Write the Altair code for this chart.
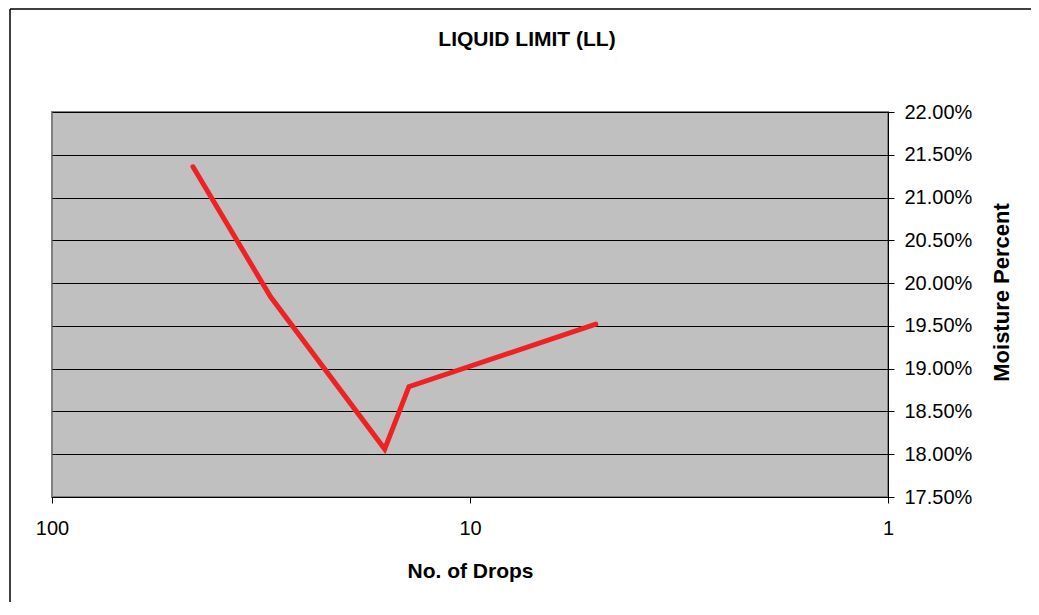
import altair as alt
import pandas as pd

drops = [46, 30, 16, 14, 5]
moisture = [0.2136, 0.1984, 0.1806, 0.1879, 0.1952]
x_ticks = [1, 10, 100]
y_ticks = [0.175, 0.18, 0.185, 0.19, 0.195, 0.20, 0.205, 0.21, 0.215, 0.22]
chart_title = "LIQUID LIMIT (LL)"

df = pd.DataFrame({"drops": drops, "moisture": moisture})

W, H = 836, 385
PL, PT, PR, PB = 44, 104, 143, 105
FONT = "Liberation Sans"

line = alt.Chart(df).mark_line(color="#EE2224", strokeWidth=5, strokeCap="round", strokeJoin="miter").encode(
    x=alt.X("drops:Q",
            scale=alt.Scale(type="log", domain=[1, 100], reverse=True, nice=False),
            axis=alt.Axis(values=x_ticks, format="d", title="No. of Drops", grid=False,
                          domainColor="#000000", tickColor="#000000", tickSize=6,
                          labelFont=FONT, labelFontSize=20, labelColor="#000000", labelPadding=15,
                          labelFlush=False,
                          titleFont=FONT, titleFontSize=21, titleFontWeight="bold", titleColor="#000000",
                          titleX=W / 2, titleY=74, titleBaseline="middle", titleAlign="center")),
    y=alt.Y("moisture:Q",
            scale=alt.Scale(domain=[0.175, 0.22], nice=False, zero=False),
            axis=alt.Axis(orient="right", values=y_ticks, format=".2%", title="Moisture Percent",
                          grid=True, gridColor="#000000", gridWidth=1, gridOpacity=1,
                          domainColor="#000000", tickColor="#000000", tickSize=6,
                          labelFont=FONT, labelFontSize=20, labelColor="#000000", labelPadding=10,
                          labelFlush=False,
                          titleFont=FONT, titleFontSize=22, titleFontWeight="bold", titleColor="#000000",
                          titleAngle=270, titleX=113, titleY=180, titleBaseline="middle",
                          titleAlign="center")),
)

frame_df = pd.DataFrame({"k": [0], "title": [chart_title]})
left_rule = alt.Chart(frame_df).mark_rule(color="#000000", strokeWidth=1.5).encode(
    x=alt.value(-42), y=alt.value(-103), y2=alt.value(H + PB))
top_rule = alt.Chart(frame_df).mark_rule(color="#000000", strokeWidth=1.5).encode(
    x=alt.value(-42), x2=alt.value(W + PR), y=alt.value(-103))
title_text = alt.Chart(frame_df).mark_text(
    font=FONT, fontSize=21, fontWeight="bold", color="#000000", align="center", baseline="middle"
).encode(x=alt.value(475), y=alt.value(-72), text="title:N")

chart = alt.layer(left_rule, top_rule, title_text, line).properties(
    width=W, height=H,
    padding={"left": PL, "top": PT, "right": PR, "bottom": PB},
    autosize=alt.AutoSizeParams(type="none"),
).configure(
    background="#FFFFFF"
).configure_view(
    fill="#C0C0C0", stroke="#808080", strokeWidth=2
)

chart.save("out.html", embed_options={"renderer": "svg", "actions": False})
